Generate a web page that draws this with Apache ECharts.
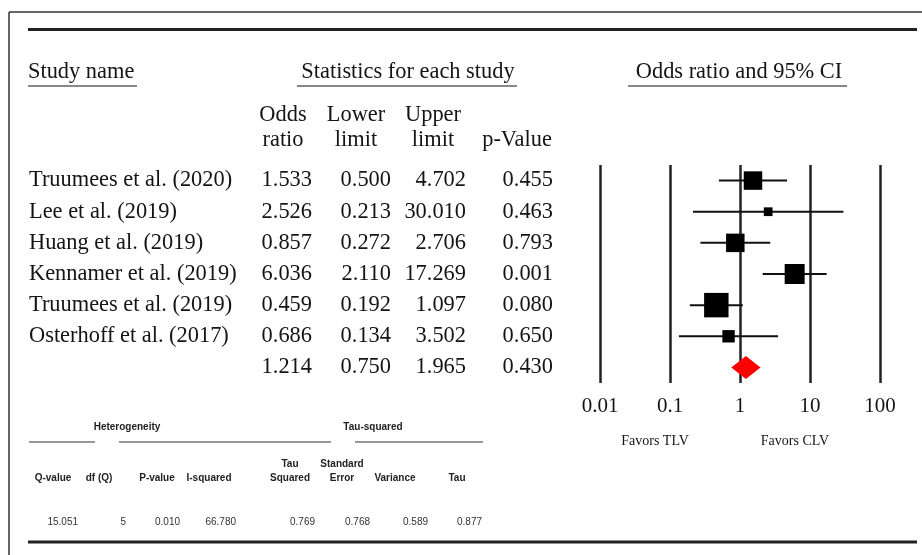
<!DOCTYPE html>
<html>
<head>
<meta charset="utf-8">
<script src="https://cdn.jsdelivr.net/npm/echarts@6/dist/echarts.min.js"></script>
<style>
  html, body { margin: 0; padding: 0; background: #fff; }
  #c { width: 922px; height: 555px; }
</style>
</head>
<body>
<div id="c"></div>
<script>
// ---- Study data ----
const studies = ['Truumees et al. (2020)', 'Lee et al. (2019)', 'Huang et al. (2019)',
  'Kennamer et al. (2019)', 'Truumees et al. (2019)', 'Osterhoff et al. (2017)', ''];
const oddsRatio  = [1.533, 2.526, 0.857, 6.036, 0.459, 0.686, 1.214];
const lowerLimit = [0.500, 0.213, 0.272, 2.110, 0.192, 0.134, 0.750];
const upperLimit = [4.702, 30.010, 2.706, 17.269, 1.097, 3.502, 1.965];
const pValue     = [0.455, 0.463, 0.793, 0.001, 0.080, 0.650, 0.430];
// relative weight of each study (%), the last row is the pooled estimate
const weightPct  = [17.9, 4.0, 17.9, 20.9, 31.3, 8.0];
const tickLabels = ['0.01', '0.1', '1', '10', '100'];
const favorLabels = ['Favors TLV', 'Favors CLV'];

// ---- Heterogeneity / tau-squared summary ----
const hetHeaders = ['Q-value', 'df (Q)', 'P-value', 'I-squared', 'Tau\nSquared', 'Standard\nError', 'Variance', 'Tau'];
const hetValues  = ['15.051', '5', '0.010', '66.780', '0.769', '0.768', '0.589', '0.877'];

const SERIF = '"Liberation Serif", "Times New Roman", serif';
const SANS = '"Liberation Sans", Arial, sans-serif';
const INK = '#141414';
const N = studies.length;
const pooled = N - 1;

const chart = echarts.init(document.getElementById('c'), null, { renderer: 'canvas' });

const option = {
  animation: false,
  backgroundColor: '#fff',
  grid: { left: 600, width: 280, top: 165, height: 218 },
  xAxis: {
    type: 'log', logBase: 10, min: 0.01, max: 100,
    axisLine: { show: false }, axisTick: { show: false },
    splitLine: { show: true, lineStyle: { color: '#222', width: 2.5 } },
    axisLabel: {
      fontFamily: SERIF, fontSize: 21, color: INK, margin: 13,
      formatter: v => tickLabels[Math.round(Math.log10(v)) + 2]
    }
  },
  yAxis: {
    type: 'category', inverse: true, show: false,
    data: studies.map((_, i) => String(i))
  },
  series: [
    {
      // confidence interval whiskers
      type: 'custom', silent: true,
      data: oddsRatio.slice(0, pooled).map((_, i) => [lowerLimit[i], upperLimit[i], i]),
      encode: { x: [0, 1], y: 2 },
      renderItem: (params, api) => {
        const a = api.coord([api.value(0), api.value(2)]);
        const b = api.coord([api.value(1), api.value(2)]);
        return { type: 'line', shape: { x1: a[0], y1: a[1], x2: b[0], y2: b[1] },
                 style: { stroke: '#111', lineWidth: 2 } };
      },
      z: 2
    },
    {
      // point estimates, box area proportional to weight
      type: 'scatter', silent: true,
      symbol: 'rect',
      symbolSize: (val, params) => Math.sqrt(weightPct[params.dataIndex]) * 4.37,
      itemStyle: { color: '#000', opacity: 1 },
      data: oddsRatio.slice(0, pooled).map((v, i) => [v, i]),
      z: 3
    },
    {
      // pooled estimate diamond
      type: 'custom', silent: true,
      data: [[lowerLimit[pooled], oddsRatio[pooled], upperLimit[pooled], pooled]],
      encode: { x: [0, 1, 2], y: 3 },
      renderItem: (params, api) => {
        const l = api.coord([api.value(0), api.value(3)]);
        const m = api.coord([api.value(1), api.value(3)]);
        const r = api.coord([api.value(2), api.value(3)]);
        const h = 11.5;
        return { type: 'polygon',
                 shape: { points: [[l[0], l[1]], [m[0], m[1] - h], [r[0], r[1]], [m[0], m[1] + h]] },
                 style: { fill: '#ff0000' } };
      },
      z: 3
    }
  ]
};
chart.setOption(option);

// ---- Table text and rules ----
const g = [];
function text(x, y, s, o) {
  g.push({ type: 'text', x, y, silent: true,
    style: Object.assign({ text: s, fill: INK, fontFamily: SERIF, fontSize: 22.4,
      align: 'left', verticalAlign: 'middle' }, o || {}) });
}
function rule(x1, y1, x2, y2, stroke, w) {
  g.push({ type: 'line', silent: true, shape: { x1, y1, x2, y2 }, style: { stroke, lineWidth: w } });
}

// outer frame and thick rules
rule(9, 12, 922, 12, '#333', 1.5);
rule(9, 12, 9, 555, '#333', 1.5);
rule(28, 29.5, 917, 29.5, '#222', 3);
rule(28, 542, 917, 542, '#222', 3);

// section titles with underlines
text(28, 72, 'Study name');
rule(28, 86, 137, 86, '#888', 2);
text(408, 72, 'Statistics for each study', { align: 'center' });
rule(297, 86, 517, 86, '#888', 2);
text(739, 72, 'Odds ratio and 95% CI', { align: 'center' });
rule(628, 86, 847, 86, '#888', 2);

// column headings
const colHead = [['Odds', 'ratio', 283], ['Lower', 'limit', 356], ['Upper', 'limit', 433], ['', 'p-Value', 517]];
colHead.forEach(([a, b, x]) => {
  if (a) text(x, 115, a, { align: 'center' });
  text(x, 140, b, { align: 'center' });
});

// rows
const colRight = [312, 391, 466, 553];
for (let i = 0; i < N; i++) {
  const y = chart.convertToPixel({ yAxisIndex: 0 }, i);
  if (studies[i]) text(29, y, studies[i]);
  [oddsRatio, lowerLimit, upperLimit, pValue].forEach((arr, k) => {
    text(colRight[k], y, arr[i].toFixed(3), { align: 'right' });
  });
}

// favours labels under the log axis
text(655, 441, favorLabels[0], { align: 'center', fontSize: 14 });
text(795, 441, favorLabels[1], { align: 'center', fontSize: 14 });

// heterogeneity block
const small = { fontFamily: SANS, fontSize: 10, fontWeight: 'bold', align: 'center', fill: '#222' };
text(127, 427, 'Heterogeneity', small);
text(373, 427, 'Tau-squared', small);
rule(29, 442, 95, 442, '#333', 1);
rule(119, 442, 331, 442, '#333', 1);
rule(355, 442, 483, 442, '#333', 1);

const headX = [53, 99, 157, 209, 290, 342, 395, 457];
const valRight = [78, 126, 180, 236, 315, 370, 428, 482];
hetHeaders.forEach((h, i) => {
  const lines = h.split('\n');
  lines.forEach((ln, j) => text(headX[i], 478 - (lines.length - 1 - j) * 14, ln, small));
  text(valRight[i], 522, hetValues[i], { fontFamily: SANS, fontSize: 10, align: 'right', fill: '#333' });
});

chart.setOption({ graphic: { elements: g } });
</script>
</body>
</html>
